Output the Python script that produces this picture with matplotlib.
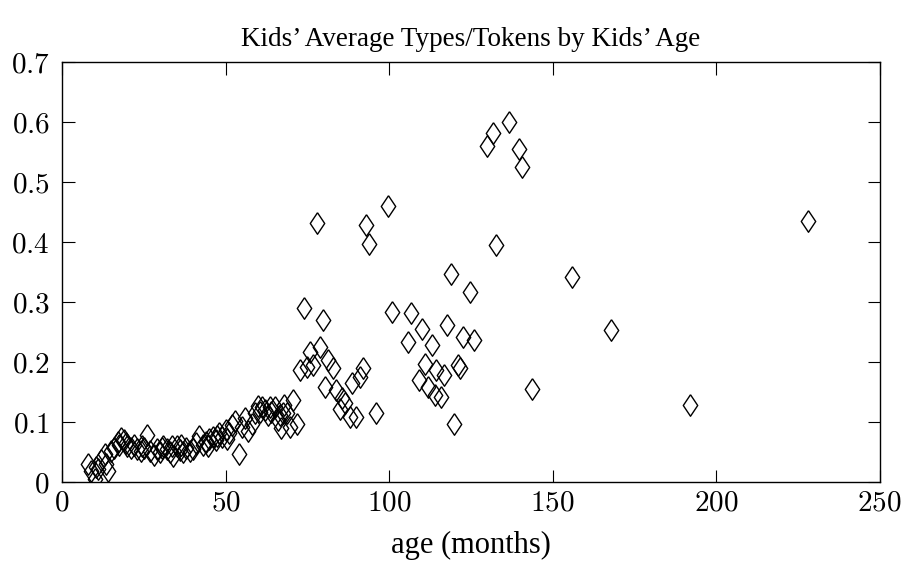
import matplotlib
matplotlib.use("Agg")
import matplotlib.pyplot as plt
from matplotlib.ticker import FuncFormatter

plt.rcParams['mathtext.fontset'] = 'cm'
plt.rcParams['font.family'] = ['Liberation Serif', 'DejaVu Serif']

# age in months, average types/tokens
age = [8, 9, 10, 10.5, 11, 12, 13, 13.5, 14, 15, 16, 17, 17.5, 18, 19, 19.5,
       20, 21, 22, 23, 24, 24.5, 25, 26, 27, 28, 29, 30, 30.5, 31, 32, 33, 33.5,
       34, 35, 36, 36.5, 37, 38, 39, 40, 41, 42, 43, 44, 44.5, 45, 46, 47, 47.5,
       48, 49, 50, 50.5, 51, 52, 53, 54, 55, 56, 57, 58, 59, 60, 60.5, 61, 62,
       63, 63.5, 64, 65, 66, 66.5, 67, 67.6, 68, 68.7, 69.7, 70.7, 71.7,
       72.7, 74, 74.8, 75.8, 76.8, 77.8, 78.8, 79.8, 80.4, 81.4, 82.9, 83.9,
       85, 85.5, 86.5, 88, 88.5, 90, 91, 92.1, 92.8, 93.8, 95.9, 99.8, 100.9,
       105.8, 106.6, 109.2, 109.9, 111, 111.9, 113, 114, 114.4, 116, 116.9,
       117.8, 118.9, 119.8, 121.1, 121.6, 122.6, 124.7, 126, 129.8, 131.8,
       132.8, 136.7, 139.8, 140.7, 143.8, 155.8, 167.7, 191.9, 228]
ttr = [0.030, 0.018, 0.006, 0.026, 0.022, 0.038, 0.048, 0.030, 0.018, 0.052,
       0.058, 0.068, 0.062, 0.074, 0.070, 0.065, 0.060, 0.058, 0.062, 0.055,
       0.052, 0.060, 0.058, 0.079, 0.052, 0.046, 0.056, 0.050, 0.058, 0.060,
       0.056, 0.050, 0.060, 0.044, 0.060, 0.054, 0.062, 0.050, 0.058, 0.052,
       0.056, 0.066, 0.078, 0.062, 0.068, 0.060, 0.072, 0.076, 0.070, 0.078,
       0.082, 0.076, 0.088, 0.072, 0.082, 0.096, 0.102, 0.048, 0.092, 0.108,
       0.086, 0.098, 0.115, 0.128, 0.118, 0.126, 0.120, 0.112, 0.125, 0.118,
       0.125, 0.104, 0.112, 0.090, 0.115, 0.129, 0.115, 0.093, 0.137, 0.098,
       0.187, 0.290, 0.193, 0.218, 0.196, 0.433, 0.226, 0.270, 0.159, 0.204,
       0.190, 0.154, 0.123, 0.140, 0.132, 0.109, 0.165, 0.109, 0.176, 0.190,
       0.429, 0.398, 0.115, 0.460, 0.284, 0.234, 0.282, 0.171, 0.255, 0.198,
       0.159, 0.229, 0.146, 0.187, 0.143, 0.179, 0.262, 0.347, 0.098, 0.196,
       0.190, 0.243, 0.318, 0.238, 0.561, 0.583, 0.396, 0.601, 0.555, 0.525,
       0.155, 0.342, 0.254, 0.129, 0.435]

xticks = [0, 50, 100, 150, 200, 250]
yticks = [0, 0.1, 0.2, 0.3, 0.4, 0.5, 0.6, 0.7]

fig = plt.figure(figsize=(9.07, 5.67), dpi=100)
ax = fig.add_axes([0.0684, 0.1494, 0.9016, 0.7404])

diamond = [(0, 1), (0.67, 0), (0, -1), (-0.67, 0), (0, 1)]
ax.plot(age, ttr, linestyle='none', marker=diamond, markersize=15.5,
        markerfacecolor='none', markeredgecolor='black', markeredgewidth=1.0)

ax.set_xlim(0, 250)
ax.set_ylim(0, 0.7)
ax.set_xticks(xticks)
ax.set_yticks(yticks)

def fmt(v, pos):
    s = ('%g' % v)
    return '$' + s + '$'

ax.xaxis.set_major_formatter(FuncFormatter(fmt))
ax.yaxis.set_major_formatter(FuncFormatter(fmt))
ax.tick_params(direction='in', length=9, width=0.8, top=True, right=True,
               labelsize=21, pad=9)
ax.tick_params(axis='x', pad=6)
for sp in ax.spines.values():
    sp.set_linewidth(1.0)

ax.set_title("Kids\u2019 Average Types/Tokens by Kids\u2019 Age", fontsize=19.5, pad=12)
ax.set_xlabel("age (months)", fontsize=22, labelpad=10)

fig.savefig("out.png", dpi=100)
